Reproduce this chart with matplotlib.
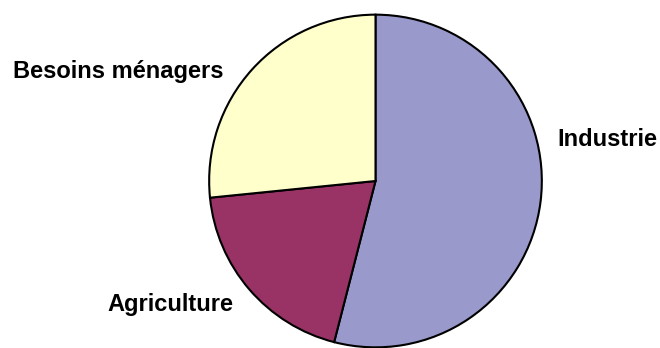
import matplotlib
matplotlib.use("Agg")
import matplotlib.pyplot as plt

categories = ["Industrie", "Agriculture", "Besoins ménagers"]
values = [54.0, 19.4, 26.6]
colors = ["#9999CC", "#993366", "#FFFFCC"]

W, H = 660, 348
fig = plt.figure(figsize=(W / 100, H / 100), dpi=100)
fig.patch.set_facecolor("white")

cx, cy, r = 375.5, 181.0, 168.0
ax = fig.add_axes([(cx - r) / W, (H - cy - r) / H, 2 * r / W, 2 * r / H])
ax.pie(values, colors=colors, startangle=90, counterclock=False,
       wedgeprops=dict(edgecolor="black", linewidth=1.5), radius=1.0)
ax.set_xlim(-1.01, 1.01)
ax.set_ylim(-1.01, 1.01)
ax.axis("off")

label_pos = {
    "Industrie": (607, 146),
    "Agriculture": (170, 311),
    "Besoins ménagers": (118, 78),
}
for cat in categories:
    x, y = label_pos[cat]
    fig.text(x / W, 1 - y / H, cat, ha="center", va="baseline",
             fontsize=17, fontweight="bold", family="Liberation Sans", color="black")

fig.savefig("out.png", dpi=100, facecolor="white")
